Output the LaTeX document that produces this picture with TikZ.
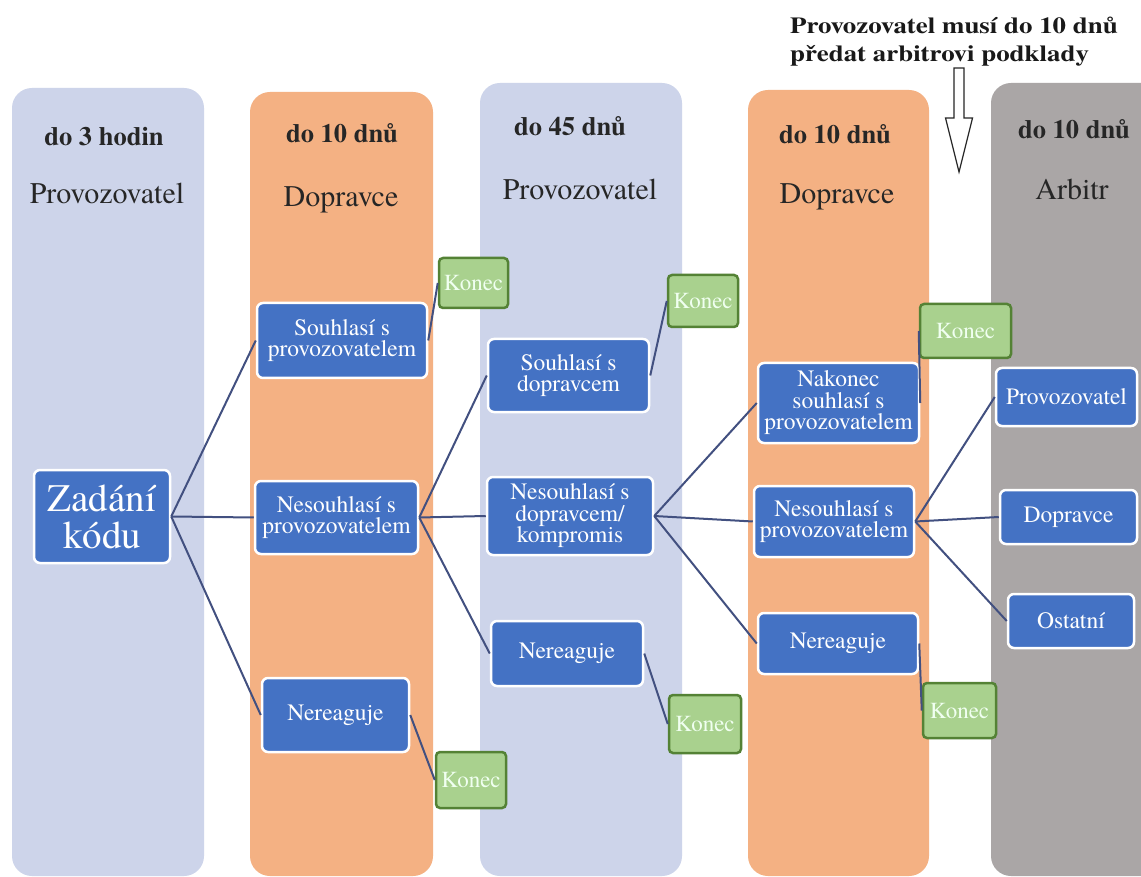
\documentclass[tikz,border=0pt]{standalone}
\usepackage{fontspec}
\setmainfont{Liberation Serif}
\IfFontExistsTF{texgyretermes-regular.otf}
  {\newfontfamily\tnr{texgyretermes}[Extension=.otf,UprightFont=*-regular,BoldFont=*-bold,ItalicFont=*-italic,BoldItalicFont=*-bolditalic]}
  {\newfontfamily\tnr{Liberation Serif}}
\usepackage{graphicx}
\definecolor{colblue}{HTML}{CDD4EA}
\definecolor{colorange}{HTML}{F4B183}
\definecolor{colgray}{HTML}{AAA6A6}
\definecolor{nodeblue}{HTML}{4472C4}
\definecolor{konfill}{HTML}{A9D18E}
\definecolor{kondraw}{HTML}{548235}
\definecolor{linkcol}{HTML}{425080}
\begin{document}
\begin{tikzpicture}[x=1pt,y=-1pt,
  column/.style={rounded corners=20pt},
  bluebox/.style={rounded corners=6pt, fill=nodeblue, draw=white, line width=2.5pt,
    text=white, align=center, inner sep=0pt, font=\tnr\fontsize{23.5}{21.5}\selectfont},
  konec/.style={rounded corners=4pt, fill=konfill, draw=kondraw, line width=2.5pt,
    text=white!94!green, align=center, inner sep=0pt, font=\tnr\fontsize{23}{24}\selectfont},
  timehdr/.style={anchor=base, font=\tnr\fontsize{26.5}{28}\selectfont\bfseries, text=black!85},
  rolehdr/.style={anchor=base, font=\tnr\fontsize{30}{32}\selectfont, text=black!85},
  notetxt/.style={anchor=base west, inner sep=0pt, text=black!90, font=\tnr\fontsize{23}{28}\selectfont\bfseries},
  link/.style={draw=linkcol, line width=2pt}
]
\clip (0,0) rectangle (1141,877);
\fill[white] (0,0) rectangle (1141,877);

% columns
\fill[column, colblue]   (12,88) rectangle (204,876);
\fill[column, colorange] (250,92) rectangle (433,876);
\fill[column, colblue]   (480,83) rectangle (682,876);
\fill[column, colorange] (748,90) rectangle (929,876);
\fill[column, colgray]   (991,83) rectangle (1180,876);

% headers
\node[timehdr] (h1a) at (104,146) {do 3 hodin};
\node[rolehdr] (h1b) at (107,204) {Provozovatel};
\node[timehdr] (h2a) at (342,143) {do 10 dnů};
\node[rolehdr] (h2b) at (341,207) {Dopravce};
\node[timehdr] (h3a) at (570,136) {do 45 dnů};
\node[rolehdr] (h3b) at (580,200) {Provozovatel};
\node[timehdr] (h4a) at (835,144) {do 10 dnů};
\node[rolehdr] (h4b) at (837,204) {Dopravce};
\node[timehdr] (h5a) at (1074,139) {do 10 dnů};
\node[rolehdr] (h5b) at (1072,200) {Arbitr};

% top note and hollow arrow
\node[notetxt] (note1) at (790,34) {\scalebox{1.17}[1]{Provozovatel musí do 10 dnů}};
\node[notetxt] (note2) at (790,62) {\scalebox{1.17}[1]{předat arbitrovi podklady}};
\draw[black!85, line width=1.2pt, fill=white, line join=miter]
  (954,68) -- (964,68) -- (964,118) -- (972.5,118) -- (959,172) -- (945.5,118) -- (954,118) -- cycle;

% boxes
\node[bluebox, minimum width=136pt, minimum height=93pt, font=\tnr\fontsize{39}{37}\selectfont]
  (z) at (102,516.5) {Zadání\\kódu};
\node[bluebox, minimum width=170pt, minimum height=75pt] (s1) at (342,340.5) {Souhlasí s\\provozovatelem};
\node[bluebox, minimum width=163pt, minimum height=73pt] (n1) at (336.5,517.5) {Nesouhlasí s\\provozovatelem};
\node[bluebox, minimum width=147pt, minimum height=74pt] (r1) at (335.5,715) {Nereaguje};
\node[konec, minimum width=69pt, minimum height=50pt] (k1) at (473.5,283) {Konec};
\node[konec, minimum width=70pt, minimum height=56pt] (k2) at (471,780) {Konec};

\node[bluebox, minimum width=161pt, minimum height=73pt] (s2) at (568.5,375.5) {Souhlasí s\\dopravcem};
\node[bluebox, minimum width=166pt, minimum height=78pt] (n2) at (570,516) {Nesouhlasí s\\dopravcem/\\kompromis};
\node[bluebox, minimum width=152pt, minimum height=65pt] (r2) at (567,653.5) {Nereaguje};
\node[konec, minimum width=70pt, minimum height=52pt] (k3) at (703,301) {Konec};
\node[konec, minimum width=72pt, minimum height=58pt] (k4) at (705,724) {Konec};

\node[bluebox, minimum width=161pt, minimum height=80pt] (s3) at (838.5,403) {Nakonec\\souhlasí s\\provozovatelem};
\node[bluebox, minimum width=160pt, minimum height=71pt] (n3) at (834,521.5) {Nesouhlasí s\\provozovatelem};
\node[bluebox, minimum width=160pt, minimum height=61pt] (r3) at (838,643.5) {Nereaguje};
\node[konec, minimum width=91pt, minimum height=54pt] (k5) at (965.5,331) {Konec};
\node[konec, minimum width=73pt, minimum height=55pt] (k6) at (959.5,710.5) {Konec};

\node[bluebox, minimum width=141pt, minimum height=58pt] (p5) at (1066.5,397) {Provozovatel};
\node[bluebox, minimum width=137pt, minimum height=54pt] (d5) at (1068.5,517) {Dopravce};
\node[bluebox, minimum width=126pt, minimum height=54pt] (o5) at (1071,621) {Ostatní};

% connectors
\draw[link] (z.east) -- (s1.west);
\draw[link] (z.east) -- (n1.west);
\draw[link] (z.east) -- (r1.west);
\draw[link] (s1.east) -- (k1.west);
\draw[link] (r1.east) -- (k2.west);
\draw[link] (n1.east) -- (s2.west);
\draw[link] (n1.east) -- (n2.west);
\draw[link] (n1.east) -- (r2.west);
\draw[link] (s2.east) -- (k3.west);
\draw[link] (r2.east) -- (k4.west);
\draw[link] (n2.east) -- (s3.west);
\draw[link] (n2.east) -- (n3.west);
\draw[link] (n2.east) -- (r3.west);
\draw[link] (s3.east) -- (k5.west);
\draw[link] (r3.east) -- (k6.west);
\draw[link] (n3.east) -- (p5.west);
\draw[link] (n3.east) -- (d5.west);
\draw[link] (n3.east) -- (o5.west);
\end{tikzpicture}
\end{document}
